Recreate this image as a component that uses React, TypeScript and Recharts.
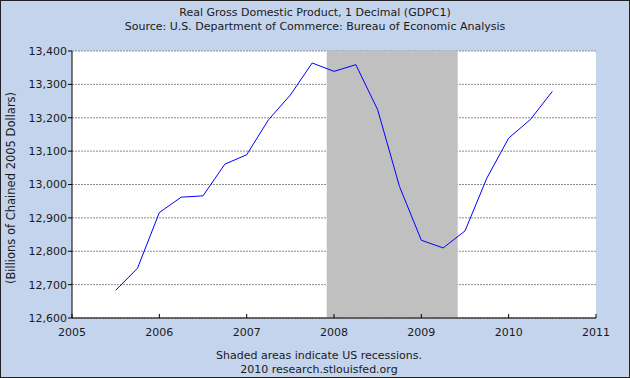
import { LineChart, Line, XAxis, YAxis, CartesianGrid, ReferenceArea } from 'recharts'

// quarterly observations, plotted at the first day of each quarter
const quarters = [
    2005.5, 2005.75,
    2006, 2006.25, 2006.5, 2006.75,
    2007, 2007.25, 2007.5, 2007.75,
    2008, 2008.25, 2008.5, 2008.75,
    2009, 2009.25, 2009.5, 2009.75,
    2010, 2010.25, 2010.5,
]
const gdp = [
    12683, 12749,
    12916, 12962, 12966, 13061,
    13089, 13194, 13268, 13364,
    13339, 13359, 13224, 12994,
    12833, 12810, 12861, 13019,
    13139, 13195, 13279,
]
const yearTicks = [2005, 2006, 2007, 2008, 2009, 2010, 2011]
const gdpTicks = [12600, 12700, 12800, 12900, 13000, 13100, 13200, 13300, 13400]
const recessionStart = 2007 + 11 / 12
const recessionEnd = 2009 + 5 / 12

const data = quarters.map((q, i) => ({ date: q, gdp: gdp[i] }))

const font = '"DejaVu Sans", Verdana, sans-serif'
const textColor = '#1a1a1a'

const YearTick = (props: any) => {
    const { x, y, payload } = props
    return (
        <g>
            <line x1={x} x2={x} y1={y - 4} y2={y} stroke="#000" />
            <text x={x} y={y + 18} textAnchor="middle" fontSize={11} fill={textColor} fontFamily={font}>
                {payload.value}
            </text>
        </g>
    )
}

export default function App() {
    return (
        <div style={{
            position: 'relative', width: 630, height: 378, boxSizing: 'border-box',
            border: '1px solid #222', background: '#c4d4ec', fontFamily: font, color: textColor,
        }}>
            <style>{`body{margin:0}`}</style>
            <div style={{ position: 'absolute', top: 5, left: 0, width: 628, textAlign: 'center', fontSize: 11, lineHeight: '14px' }}>
                Real Gross Domestic Product, 1 Decimal (GDPC1)<br />
                Source: U.S. Department of Commerce: Bureau of Economic Analysis
            </div>
            <div style={{
                position: 'absolute', left: 10, top: 187, width: 0, height: 0,
            }}>
                <div style={{
                    position: 'absolute', transform: 'translate(-50%, -50%) rotate(-90deg)',
                    whiteSpace: 'nowrap', fontSize: 11.5,
                }}>
                    (Billions of Chained 2005 Dollars)
                </div>
            </div>
            <div style={{ position: 'absolute', top: 348, left: 0, width: 636, textAlign: 'center', fontSize: 11, lineHeight: '14px' }}>
                Shaded areas indicate US recessions.<br />
                2010 research.stlouisfed.org
            </div>
            <div style={{ position: 'absolute', top: -1, left: -1 }}>
                <LineChart width={630} height={378} data={data} margin={{ top: 51, right: 34, bottom: 0, left: 0 }}>
                    <CartesianGrid vertical={false} stroke="#8c8c8c" strokeDasharray="2 1" fill="#ffffff" fillOpacity={1} />
                    <XAxis
                        dataKey="date"
                        type="number"
                        domain={[2005, 2011]}
                        ticks={yearTicks}
                        height={60}
                        tickSize={0}
                        tickMargin={0}
                        tickLine={false}
                        axisLine={{ stroke: '#000' }}
                        tick={<YearTick />}
                        interval={0}
                    />
                    <YAxis
                        domain={[12600, 13400]}
                        ticks={gdpTicks}
                        width={72}
                        tickSize={4}
                        tickMargin={1}
                        tickLine={{ stroke: '#000' }}
                        axisLine={{ stroke: '#000' }}
                        tick={{ fontSize: 11, fill: textColor, fontFamily: font }}
                        tickFormatter={(v: number) => v.toLocaleString('en-US')}
                        interval={0}
                    />
                    <ReferenceArea x1={recessionStart} x2={recessionEnd} y1={12600} y2={13400} fill="#c0c0c0" fillOpacity={1} stroke="none" />
                    <Line type="linear" dataKey="gdp" stroke="#0000ff" strokeWidth={1} dot={false} isAnimationActive={false} />
                </LineChart>
            </div>
        </div>
    )
}
